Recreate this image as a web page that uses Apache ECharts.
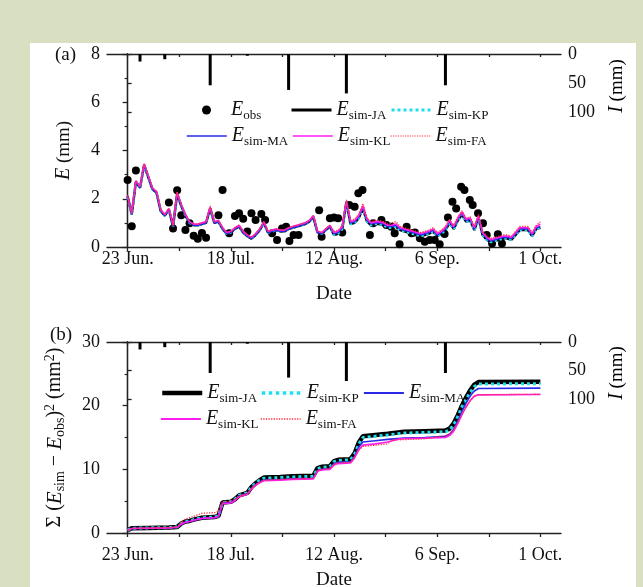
<!DOCTYPE html>
<html>
<head>
<meta charset="utf-8">
<script src="https://cdn.jsdelivr.net/npm/echarts@6/dist/echarts.min.js"></script>
<style>
  html, body { margin: 0; padding: 0; background: #d9dfc1; }
  #chart { width: 643px; height: 587px; }
</style>
</head>
<body>
<div id="chart"></div>
<script>
// x is counted in days, day 0 = 23 Jun.
const dateTicks = [0, 25, 50, 75, 100];
const dateLabels = ['23 Jun.', '18 Jul.', '12 Aug.', '6 Sep.', '1 Oct.'];
const allDateTicks = [0, 12.5, 25, 37.5, 50, 62.5, 75, 87.5, 100];
const irrTicks = [0, 50, 100];

// irrigation I (mm), drawn downward from the top
const irrDays = [3, 9, 20, 29, 39, 53, 77];
const irrMm = [13, 9, 54, 3, 62, 68, 54];

// (a) observed E (mm) as [day, value]
const eObs = [
  [0, 2.78], [1, 0.86], [2, 3.17],
  [10, 1.84], [11, 0.77], [12, 2.35], [13, 1.32], [14, 0.7], [15, 0.98], [16, 0.47], [17, 0.34], [18, 0.58], [19, 0.38],
  [22, 1.32], [23, 2.36], [24.6, 0.57], [26, 1.28], [27, 1.4], [28, 1.17], [29, 0.64], [30, 1.4], [31, 1.12], [32.4, 1.37], [33.3, 1.12],
  [35, 0.57], [36.2, 0.29], [37.4, 0.77], [38.4, 0.84], [39.2, 0.25], [40.2, 0.5], [41.4, 0.5],
  [46.4, 1.52], [47, 0.43], [49, 1.19], [50, 1.22], [51, 1.19], [52, 0.6],
  [53.7, 1.74], [55, 1.67], [55.9, 2.23], [56.9, 2.36], [58.7, 0.5], [59.5, 0.98],
  [61.5, 1.12], [62.7, 0.91], [63.9, 0.84], [64.7, 0.57], [65.9, 0.11], [67.6, 0.84], [68.8, 0.57], [69.6, 0.6],
  [70.8, 0.36], [72, 0.22], [73.2, 0.29], [74.4, 0.29], [75.6, 0.11], [76.8, 0.54],
  [77.6, 1.22], [78.7, 1.88], [79.6, 1.6], [80.8, 2.5], [81.6, 2.36], [82.9, 1.95], [83.6, 1.74], [84.9, 1.4],
  [86.1, 0.98], [87, 0.5], [88.3, 0.15], [89.7, 0.53], [90.7, 0.15]
];

// (a) simulated daily E (mm), day 0 .. 100
const simJA = [
  2.1, 1.35, 2.7, 2.45, 3.4, 2.9, 2.4, 2.25, 1.5, 1.3,
  1.55, 0.85, 2.2, 1.7, 1.3, 1.0, 0.9, 0.9, 0.95, 1.0,
  1.6, 1.0, 1.05, 0.75, 0.55, 0.6, 0.75, 0.85, 0.6, 0.45,
  0.35, 0.5, 0.7, 1.0, 0.6, 0.65, 0.7, 0.65, 0.65, 0.75,
  0.8, 0.85, 0.9, 0.95, 1.05, 1.25, 0.6, 0.55, 0.7, 0.85,
  0.5, 0.55, 0.75, 1.85, 0.95, 1.0, 1.2, 1.6, 1.05, 0.9,
  0.95, 0.95, 0.9, 0.8, 0.8, 0.85, 0.7, 0.65, 0.6, 0.55,
  0.5, 0.45, 0.5, 0.55, 0.65, 0.45, 0.55, 0.7, 1.0, 0.75,
  1.1, 1.35, 1.05, 1.1, 0.7, 1.2, 0.5, 0.3, 0.2, 0.25,
  0.3, 0.35, 0.35, 0.3, 0.5, 0.7, 0.7, 0.7, 0.45, 0.75, 0.8
];
const simKP = [
  2.05, 1.35, 2.7, 2.45, 3.4, 2.9, 2.4, 2.25, 1.5, 1.3,
  1.55, 0.85, 2.2, 1.7, 1.3, 1.0, 0.9, 0.9, 0.95, 1.0,
  1.6, 1.0, 1.05, 0.75, 0.55, 0.6, 0.75, 0.85, 0.6, 0.45,
  0.35, 0.5, 0.7, 1.0, 0.6, 0.65, 0.7, 0.65, 0.65, 0.75,
  0.8, 0.85, 0.9, 0.95, 1.05, 1.25, 0.6, 0.55, 0.7, 0.85,
  0.5, 0.55, 0.75, 1.85, 0.95, 1.0, 1.2, 1.6, 1.05, 0.9,
  0.95, 0.95, 0.9, 0.8, 0.8, 0.85, 0.7, 0.65, 0.6, 0.55,
  0.5, 0.45, 0.5, 0.55, 0.65, 0.45, 0.55, 0.7, 1.0, 0.75,
  1.1, 1.35, 1.05, 1.1, 0.7, 1.2, 0.5, 0.3, 0.2, 0.25,
  0.3, 0.35, 0.35, 0.3, 0.5, 0.7, 0.7, 0.7, 0.45, 0.75, 0.8
];
const simMA = [
  2.1, 1.35, 2.7, 2.45, 3.4, 2.9, 2.4, 2.25, 1.5, 1.3,
  1.55, 0.85, 2.2, 1.7, 1.3, 1.0, 0.9, 0.9, 0.95, 1.0,
  1.6, 1.0, 1.05, 0.75, 0.55, 0.6, 0.75, 0.85, 0.6, 0.45,
  0.35, 0.5, 0.7, 1.0, 0.6, 0.65, 0.7, 0.65, 0.65, 0.75,
  0.8, 0.85, 0.9, 0.95, 1.05, 1.25, 0.6, 0.55, 0.7, 0.85,
  0.55, 0.6, 0.8, 1.85, 1.0, 1.05, 1.25, 1.65, 1.1, 0.95,
  1.0, 1.0, 0.95, 0.85, 0.85, 0.9, 0.75, 0.7, 0.65, 0.6,
  0.55, 0.5, 0.55, 0.6, 0.7, 0.5, 0.6, 0.75, 1.05, 0.8,
  1.15, 1.4, 1.1, 1.15, 0.75, 1.25, 0.55, 0.35, 0.25, 0.3,
  0.35, 0.4, 0.4, 0.35, 0.55, 0.75, 0.75, 0.75, 0.5, 0.8, 0.85
];
const simKL = [
  2.1, 1.4, 2.75, 2.5, 3.45, 2.95, 2.45, 2.3, 1.55, 1.35,
  1.6, 0.9, 2.25, 1.75, 1.35, 1.05, 0.95, 0.95, 1.0, 1.05,
  1.65, 1.05, 1.1, 0.8, 0.6, 0.65, 0.8, 0.9, 0.65, 0.5,
  0.4, 0.55, 0.75, 1.05, 0.65, 0.7, 0.75, 0.7, 0.7, 0.8,
  0.85, 0.9, 0.95, 1.0, 1.1, 1.3, 0.65, 0.6, 0.75, 0.9,
  0.6, 0.65, 0.85, 1.9, 1.05, 1.1, 1.3, 1.7, 1.15, 1.0,
  1.05, 1.05, 1.0, 0.9, 0.9, 0.95, 0.8, 0.75, 0.7, 0.65,
  0.6, 0.55, 0.6, 0.65, 0.75, 0.55, 0.65, 0.8, 1.1, 0.85,
  1.2, 1.45, 1.15, 1.2, 0.8, 1.3, 0.6, 0.4, 0.3, 0.35,
  0.4, 0.45, 0.45, 0.4, 0.6, 0.8, 0.8, 0.8, 0.55, 0.85, 0.95
];
const simFA = [
  2.15, 1.4, 2.75, 2.5, 3.45, 2.95, 2.45, 2.3, 1.55, 1.35,
  1.6, 0.9, 2.3, 1.75, 1.35, 1.05, 0.95, 0.95, 1.0, 1.05,
  1.7, 1.05, 1.1, 0.8, 0.6, 0.65, 0.8, 0.9, 0.65, 0.5,
  0.4, 0.55, 0.75, 1.05, 0.65, 0.7, 0.75, 0.7, 0.7, 0.8,
  0.85, 0.9, 0.95, 1.0, 1.1, 1.3, 0.65, 0.6, 0.75, 0.9,
  0.65, 0.7, 0.9, 1.95, 1.1, 1.15, 1.35, 1.8, 1.2, 1.05,
  1.1, 1.1, 1.05, 0.95, 1.0, 1.05, 0.85, 0.8, 0.75, 0.7,
  0.65, 0.6, 0.65, 0.7, 0.8, 0.6, 0.7, 0.85, 1.15, 0.9,
  1.25, 1.5, 1.2, 1.25, 0.85, 1.35, 0.65, 0.45, 0.35, 0.4,
  0.45, 0.5, 0.5, 0.45, 0.65, 0.85, 0.85, 0.85, 0.6, 0.9, 1.05
];

// (b) cumulative squared error (mm2) as [day, value]
const cumJA = [[0,0.45],[1,0.75],[5,0.8],[10,0.85],[12,0.95],[13,1.5],[14,1.8],[15,1.9],[16,2.1],[18,2.4],[21,2.5],[22,2.7],[23,4.8],[25,4.9],[26,5.3],[27,5.9],[28,6.1],[29,6.3],[30,7.2],[31,7.8],[32,8.3],[33,8.7],[37,8.8],[40,8.9],[45,9.0],[46,10.2],[47,10.4],[49,10.5],[50,11.3],[51,11.5],[54,11.6],[55,12.5],[56,14.2],[57,15.2],[60,15.4],[63,15.6],[67,15.9],[72,16.0],[77,16.1],[78,16.4],[79,17.2],[80,18.5],[81,20.0],[82,21.3],[83,22.4],[84,23.3],[85,23.7],[100,23.75]];
const cumKP = [[0,0.45],[1,0.75],[5,0.8],[10,0.85],[12,0.95],[13,1.5],[14,1.8],[15,1.9],[16,2.1],[18,2.4],[21,2.5],[22,2.7],[23,4.8],[25,4.9],[26,5.3],[27,5.9],[28,6.1],[29,6.3],[30,7.2],[31,7.8],[32,8.3],[33,8.6],[37,8.7],[40,8.8],[45,8.9],[46,10.1],[47,10.3],[49,10.4],[50,11.2],[51,11.4],[54,11.5],[55,12.4],[56,14.0],[57,15.0],[60,15.2],[63,15.4],[67,15.7],[72,15.8],[77,15.9],[78,16.2],[79,17.0],[80,18.3],[81,19.8],[82,21.0],[83,22.1],[84,23.0],[85,23.4],[100,23.45]];
const cumMA = [[0,0.45],[1,0.7],[5,0.75],[10,0.8],[12,0.9],[13,1.4],[14,1.7],[15,1.8],[16,2.0],[18,2.3],[21,2.4],[22,2.6],[23,4.7],[25,4.8],[26,5.2],[27,5.8],[28,6.0],[29,6.2],[30,7.0],[31,7.6],[32,8.0],[33,8.3],[37,8.4],[40,8.5],[45,8.6],[46,9.8],[47,10.0],[49,10.1],[50,10.9],[51,11.1],[54,11.2],[55,12.0],[56,13.5],[57,14.3],[60,14.5],[63,14.7],[67,14.9],[72,15.0],[77,15.2],[78,15.5],[79,16.3],[80,17.6],[81,19.1],[82,20.4],[83,21.5],[84,22.3],[85,22.7],[100,22.75]];
const cumKL = [[0,0.4],[1,0.7],[5,0.75],[10,0.8],[12,0.9],[13,1.4],[14,1.7],[15,1.8],[16,2.0],[18,2.3],[21,2.4],[22,2.6],[23,4.6],[25,4.7],[26,5.1],[27,5.7],[28,5.9],[29,6.1],[30,6.9],[31,7.5],[32,7.9],[33,8.2],[37,8.3],[40,8.4],[45,8.5],[46,9.7],[47,9.9],[49,10.0],[50,10.7],[51,10.9],[54,11.0],[55,11.8],[56,13.1],[57,13.8],[60,14.0],[63,14.3],[66,14.8],[72,14.9],[77,15.0],[78,15.3],[79,16.0],[80,17.2],[81,18.6],[82,19.8],[83,20.8],[84,21.5],[85,21.7],[100,21.75]];
const cumFA = [[0,0.45],[1,0.75],[5,0.8],[10,0.85],[12,1.0],[13,1.7],[14,2.2],[15,2.4],[16,2.6],[18,3.1],[21,3.2],[22,3.4],[23,4.9],[25,5.0],[26,5.3],[27,5.8],[28,6.0],[29,6.2],[30,7.0],[31,7.6],[32,8.0],[33,8.3],[37,8.4],[40,8.5],[45,8.6],[46,9.8],[47,10.0],[49,10.1],[50,10.8],[51,11.0],[54,11.1],[55,11.9],[56,13.0],[57,13.6],[60,13.8],[63,14.0],[64,14.6],[72,14.8],[77,15.3],[78,15.6],[79,16.2],[80,17.3],[81,18.6],[82,19.8],[83,20.8],[84,21.5],[85,21.7],[100,21.8]];

const serif = '"Liberation Serif", "Times New Roman", serif';
const ink = '#111';
const axisColor = '#222';
const subs = { obs: 'obs', JA: 'sim-JA', KP: 'sim-KP', MA: 'sim-MA', KL: 'sim-KL', FA: 'sim-FA' };

const rich = {
  e: { fontFamily: serif, fontStyle: 'italic', fontSize: 20, lineHeight: 24, color: ink },
  n: { fontFamily: serif, fontSize: 19, lineHeight: 24, color: ink },
  s: { fontFamily: serif, fontSize: 13, lineHeight: 12, verticalAlign: 'bottom', color: ink },
  p: { fontFamily: serif, fontSize: 13, lineHeight: 12, verticalAlign: 'top', color: ink },
  g: { width: 15, fontSize: 13, lineHeight: 12 }
};
const bigRich = Object.assign({}, rich, {
  e: Object.assign({}, rich.e, { fontSize: 21 }),
  n: Object.assign({}, rich.n, { fontSize: 20 }),
  s: Object.assign({}, rich.s, { fontSize: 14 }),
  p: Object.assign({}, rich.p, { fontSize: 14 })
});

const byDay = arr => arr.map((v, i) => [i, v]);

function dateAxes(g, margin, gap) {
  const line = { lineStyle: { color: axisColor, width: 1.3 } };
  return [{
    type: 'value', gridIndex: g, min: -5, max: 105, position: 'bottom',
    name: 'Date', nameLocation: 'middle', nameGap: gap,
    nameTextStyle: { fontFamily: serif, fontSize: 19, color: ink },
    axisLine: line,
    axisTick: { customValues: allDateTicks, length: 4, lineStyle: line.lineStyle },
    axisLabel: {
      customValues: dateTicks, margin: margin,
      formatter: v => dateLabels[dateTicks.indexOf(v)],
      fontFamily: serif, fontSize: 18, color: ink
    },
    splitLine: { show: false }
  }, {
    type: 'value', gridIndex: g, min: -5, max: 105, position: 'top',
    axisLine: line,
    axisTick: { customValues: allDateTicks, inside: true, length: 3, lineStyle: line.lineStyle },
    axisLabel: { show: false },
    splitLine: { show: false }
  }];
}

function leftAxis(g, max, interval, name, gap, nameRich) {
  return {
    type: 'value', gridIndex: g, min: 0, max: max, interval: interval, position: 'left',
    name: name, nameLocation: 'middle', nameGap: gap,
    nameTextStyle: { rich: nameRich },
    axisLine: { show: true, lineStyle: { color: axisColor, width: 1.3 } },
    axisTick: { show: true, length: 5, lineStyle: { color: axisColor, width: 1.3 } },
    minorTick: { show: true, splitNumber: 2, length: 3, lineStyle: { color: axisColor, width: 1.2 } },
    axisLabel: { margin: 7, fontFamily: serif, fontSize: 18, color: ink },
    splitLine: { show: false }
  };
}

function irrAxis(g) {
  return {
    type: 'value', gridIndex: g, min: 0, max: 333, inverse: true, position: 'right',
    axisLine: { show: true, lineStyle: { color: axisColor, width: 1.3 } },
    axisTick: { show: true, customValues: irrTicks, length: 4, lineStyle: { color: axisColor, width: 1.3 } },
    axisLabel: { customValues: irrTicks, margin: 7, fontFamily: serif, fontSize: 18, color: ink },
    splitLine: { show: false }
  };
}

const lineStyles = {
  JA: { color: '#000', type: 'solid' },
  KP: { color: '#1fe0ea', type: 'dotted' },
  MA: { color: '#2a2ae8', type: 'solid' },
  KL: { color: '#ff1cf0', type: 'solid' },
  FA: { color: '#ff3040', type: 'dotted' }
};
const lineWidths = {
  a: { JA: 2.5, KP: 2.5, MA: 1.6, KL: 1.6, FA: 1.3 },
  b: { JA: 4.5, KP: 3, MA: 1.6, KL: 1.6, FA: 1.3 }
};
const legendWidths = {
  a: { JA: 3, KP: 3, MA: 1.6, KL: 1.6, FA: 1.2 },
  b: { JA: 4.5, KP: 3.5, MA: 1.8, KL: 1.8, FA: 1.3 }
};

function simLines(panel, xi, yi, data) {
  return Object.keys(lineStyles).map(k => ({
    name: panel + '-' + k, type: 'line', xAxisIndex: xi, yAxisIndex: yi,
    data: data[k], symbol: 'none', animation: false,
    itemStyle: { color: lineStyles[k].color },
    lineStyle: Object.assign({ width: lineWidths[panel][k] }, lineStyles[k])
  }));
}

// one legend block per entry, placed like the original column layout
function legendItem(name, left, top) {
  const panel = name.split('-')[0];
  const key = name.split('-')[1];
  const isDot = key === 'obs';
  const item = { name: name, itemStyle: { opacity: isDot ? 1 : 0 } };
  if (!isDot) item.lineStyle = Object.assign({ width: legendWidths[panel][key] }, lineStyles[key]);
  return {
    data: [item],
    left: left, top: top, padding: 0,
    itemWidth: isDot ? 9 : 40, itemHeight: isDot ? 9 : 8, selectedMode: false,
    formatter: () => (isDot ? '{g| }' : '') + '{e|E}{s|' + subs[key] + '}',
    textStyle: { rich: rich }
  };
}

const irrData = irrDays.map((d, i) => [d, irrMm[i]]);
const irrBars = (xi, yi) => ({
  type: 'bar', xAxisIndex: xi, yAxisIndex: yi, data: irrData,
  barWidth: 3, itemStyle: { color: '#000' }, animation: false
});

const chart = echarts.init(document.getElementById('chart'), null, { renderer: 'canvas' });
chart.setOption({
  backgroundColor: '#d9dfc1',
  animation: false,
  graphic: { elements: [
    { type: 'rect', z: -10, shape: { x: 30, y: 43, width: 606, height: 560 }, style: { fill: '#fff' } },
    { type: 'text', x: 55, y: 55, style: { text: '(a)', fontFamily: serif, fontSize: 19, fill: ink, verticalAlign: 'middle' } },
    { type: 'text', x: 50, y: 335, style: { text: '(b)', fontFamily: serif, fontSize: 19, fill: ink, verticalAlign: 'middle' } },
    { type: 'text', x: 617, y: 86, rotation: Math.PI / 2,
      style: { text: '{e|I}{n| (mm)}', rich: rich, align: 'center', verticalAlign: 'middle' } },
    { type: 'text', x: 617, y: 373, rotation: Math.PI / 2,
      style: { text: '{e|I}{n| (mm)}', rich: rich, align: 'center', verticalAlign: 'middle' } }
  ] },
  grid: [
    { left: 107, top: 54, width: 454, height: 193, outerBoundsMode: 'none' },
    { left: 107, top: 342, width: 454, height: 191, outerBoundsMode: 'none' }
  ],
  xAxis: [].concat(dateAxes(0, 3, 38), dateAxes(1, 13, 38)),
  yAxis: [
    leftAxis(0, 8, 2, '{e|E}{n| (mm)}', 31, rich),
    irrAxis(0),
    leftAxis(1, 30, 10, '{n|Σ (}{e|E}{s|sim}{n| − }{e|E}{s|obs}{n|)}{p|2}{n| (mm}{p|2}{n|)}', 40, bigRich),
    irrAxis(1)
  ],
  legend: [
    legendItem('a-obs', 202, 100),
    legendItem('a-JA', 290, 100),
    legendItem('a-KP', 390, 100),
    legendItem('a-MA', 186, 126),
    legendItem('a-KL', 292, 126),
    legendItem('a-FA', 390, 126),
    legendItem('b-JA', 160, 383),
    legendItem('b-KP', 260, 383),
    legendItem('b-MA', 363, 383),
    legendItem('b-KL', 160, 409),
    legendItem('b-FA', 260, 409)
  ],
  series: [
    irrBars(0, 1),
    {
      name: 'a-obs', type: 'scatter', xAxisIndex: 0, yAxisIndex: 0, data: eObs,
      symbol: 'circle', symbolSize: 8, itemStyle: { color: '#000', opacity: 1 }, animation: false
    }
  ].concat(
    simLines('a', 0, 0, { JA: byDay(simJA), KP: byDay(simKP), MA: byDay(simMA), KL: byDay(simKL), FA: byDay(simFA) }),
    [irrBars(2, 3)],
    simLines('b', 2, 2, { JA: cumJA, KP: cumKP, MA: cumMA, KL: cumKL, FA: cumFA })
  )
});
</script>
</body>
</html>
